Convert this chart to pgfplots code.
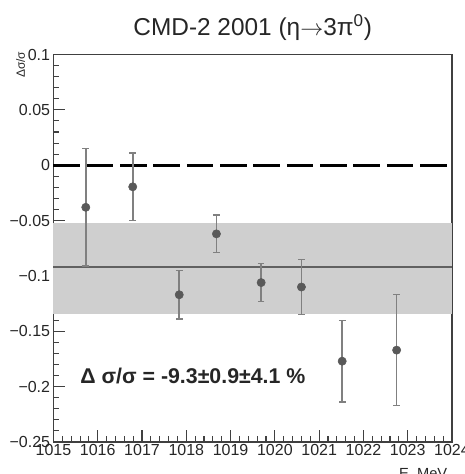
\documentclass[border=0pt]{standalone}
\usepackage{pgfplots}
\pgfplotsset{compat=1.18}
\usepackage{fontspec}
\setmainfont{Liberation Sans}
\begin{document}
\begin{tikzpicture}
\begin{axis}[
  width=298.9pt, height=290.6pt, scale only axis,
  xmin=1015, xmax=1024, ymin=-0.25, ymax=0.1,
  xtick={1015,1016,1017,1018,1019,1020,1021,1022,1023,1024},
  xticklabels={1015,1016,1017,1018,1019,1020,1021,1022,1023,1024},
  ytick={-0.25,-0.2,-0.15,-0.1,-0.05,0,0.05,0.1},
  yticklabels={−0.25,−0.2,−0.15,−0.1,−0.05,0,0.05,0.1},
  minor x tick num=4, minor y tick num=4,
  tick align=inside, xtick pos=bottom, ytick pos=left,
  major tick length=9pt, minor tick length=4.5pt,
  axis line style={draw=black!75, line width=1pt},
  tick style={black!75, line width=0.8pt},
  ticklabel style={font=\fontsize{12}{14}\selectfont, text=black!85},
  xticklabel style={yshift=1.5pt},
  yticklabel style={xshift=1pt},
  /pgf/number format/assume math mode=true,
  clip=false,
]
% band
\addplot[draw=none, fill=black!19] coordinates {(1015,-0.052) (1024,-0.052) (1024,-0.134) (1015,-0.134)} -- cycle;
% fit line
\addplot[black!62, line width=1.5pt] coordinates {(1015,-0.092) (1024,-0.092)};
% zero line
\addplot[black, line width=2.2pt, dash pattern=on 20pt off 5pt] coordinates {(1015,0) (1024,0)};
% data
\addplot[only marks, mark=*, mark size=3.1pt, mark options={fill=black!65, draw=black!65},
  error bars/.cd, y dir=both, y explicit,
  error bar style={black!50, line width=1.2pt},
  error mark options={rotate=90, mark size=2.5pt, black!50, line width=1pt}]
coordinates {
 (1015.73,-0.038) +- (0,0.053)
 (1016.79,-0.0195) +- (0,0.0305)
 (1017.84,-0.117) +- (0,0.022)
 (1018.68,-0.062) +- (0,0.017)
 (1019.69,-0.106) +- (0,0.017)
 (1020.60,-0.110) +- (0,0.025)
 (1021.52,-0.177) +- (0,0.037)
 (1022.75,-0.167) +- (0,0.050)
};
\node[anchor=west, font=\bfseries\fontsize{16}{18}\selectfont, text=black!85] at (axis cs:1015.5,-0.19) {Δ σ/σ = -9.3±0.9±4.1 \%};
\node[anchor=base, font=\fontsize{18.3}{20}\selectfont, text=black!85, yshift=14.6pt] at (rel axis cs:0.5,1) {CMD-2 2001 (η$\rightarrow$3π\textsuperscript{0})};
\node[xshift=-21.4pt, yshift=5.6pt, rotate=90, anchor=base east, font=\fontsize{9}{10}\selectfont, text=black!85] at (rel axis cs:0,1) {Δσ/σ};
\node[anchor=base east, font=\fontsize{11}{13}\selectfont, text=black!85, yshift=-27.4pt] at (rel axis cs:1,0) {E, MeV};
\end{axis}
\pgfresetboundingbox
\path[use as bounding box] (-40.1pt,-24pt) rectangle (307.9pt,331.5pt);
\end{tikzpicture}
\end{document}
